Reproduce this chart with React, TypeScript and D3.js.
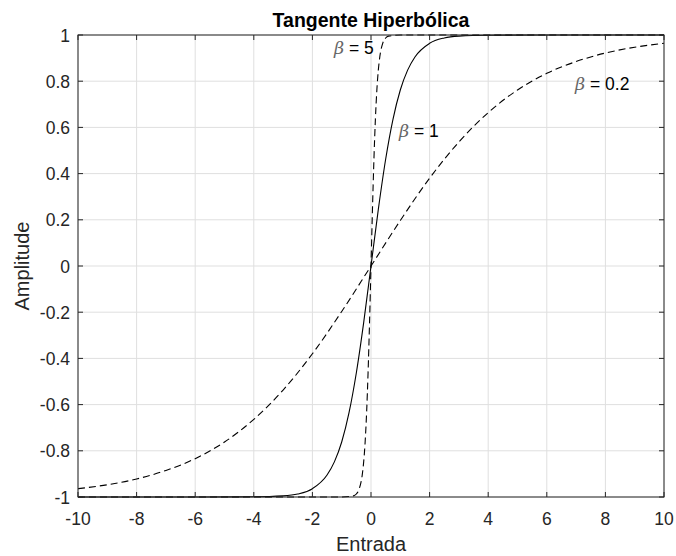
import React from "react";
import * as d3 from "d3";

const xTicks = [-10, -8, -6, -4, -2, 0, 2, 4, 6, 8, 10];
const yTicks = [-1, -0.8, -0.6, -0.4, -0.2, 0, 0.2, 0.4, 0.6, 0.8, 1];
const yTickLabels = ["-1", "-0.8", "-0.6", "-0.4", "-0.2", "0", "0.2", "0.4", "0.6", "0.8", "1"];

// beta = 0.2
const xB02 = [-10, -9, -8, -7, -6, -5, -4, -3, -2, -1, 0, 1, 2, 3, 4, 5, 6, 7, 8, 9, 10];
const yB02 = [-0.964, -0.947, -0.922, -0.885, -0.834, -0.762, -0.664, -0.537, -0.38, -0.197, 0, 0.197, 0.38, 0.537, 0.664, 0.762, 0.834, 0.885, 0.922, 0.947, 0.964];

// beta = 1
const xB1 = [-10, -6, -4, -3, -2.5, -2, -1.5, -1.25, -1, -0.75, -0.5, -0.25, 0, 0.25, 0.5, 0.75, 1, 1.25, 1.5, 2, 2.5, 3, 4, 6, 10];
const yB1 = [-1, -1, -0.999, -0.995, -0.987, -0.964, -0.905, -0.848, -0.762, -0.635, -0.462, -0.245, 0, 0.245, 0.462, 0.635, 0.762, 0.848, 0.905, 0.964, 0.987, 0.995, 0.999, 1, 1];

// beta = 5
const xB5 = [-10, -1, -0.6, -0.5, -0.4, -0.3, -0.25, -0.2, -0.15, -0.1, -0.05, 0, 0.05, 0.1, 0.15, 0.2, 0.25, 0.3, 0.4, 0.5, 0.6, 1, 10];
const yB5 = [-1, -1, -0.995, -0.987, -0.964, -0.905, -0.848, -0.762, -0.635, -0.462, -0.245, 0, 0.245, 0.462, 0.635, 0.762, 0.848, 0.905, 0.964, 0.987, 0.995, 1, 1];

const W = 676, H = 556;
const L = 78, R = 664, T = 35, B = 497;
const txt = "#262626";
const font = "Helvetica, Arial, 'Liberation Sans', sans-serif";

export default function App() {
  const x = d3.scaleLinear().domain([-10, 10]).range([L, R]);
  const y = d3.scaleLinear().domain([-1, 1]).range([B, T]);
  const line = d3.line<[number, number]>().x(d => x(d[0])).y(d => y(d[1])).curve(d3.curveMonotoneX);
  const mk = (xs: number[], ys: number[]) => xs.map((v, i) => [v, ys[i]] as [number, number]);
  const tl = 5;
  return (
    <svg width={W} height={H} style={{ position: "absolute", left: 0, top: 0, background: "#fff" }} fontFamily={font}>
      <rect x={0} y={0} width={W} height={H} fill="#fff" />
      {/* grid */}
      {xTicks.map(t => (
        <line key={"gx" + t} x1={x(t)} x2={x(t)} y1={T} y2={B} stroke="#dfdfdf" strokeWidth={1} />
      ))}
      {yTicks.map(t => (
        <line key={"gy" + t} x1={L} x2={R} y1={y(t)} y2={y(t)} stroke="#dfdfdf" strokeWidth={1} />
      ))}
      {/* curves */}
      <clipPath id="clip"><rect x={L} y={T - 1} width={R - L} height={B - T + 2} /></clipPath>
      <g clipPath="url(#clip)" fill="none">
        <path d={line(mk(xB02, yB02)) || ""} stroke="#000" strokeWidth={1.1} strokeDasharray="7,4" />
        <path d={line(mk(xB1, yB1)) || ""} stroke="#000" strokeWidth={1.1} />
        <path d={line(mk(xB5, yB5)) || ""} stroke="#000" strokeWidth={1.1} strokeDasharray="7,4" />
      </g>
      {/* axes box */}
      <rect x={L} y={T} width={R - L} height={B - T} fill="none" stroke={txt} strokeWidth={1} />
      {xTicks.map(t => (
        <g key={"tx" + t}>
          <line x1={x(t)} x2={x(t)} y1={B} y2={B - tl} stroke={txt} />
          <line x1={x(t)} x2={x(t)} y1={T} y2={T + tl} stroke={txt} />
          <text x={x(t)} y={525} textAnchor="middle" fontSize={17.5} fill={txt}>{t}</text>
        </g>
      ))}
      {yTicks.map((t, i) => (
        <g key={"ty" + t}>
          <line x1={L} x2={L + tl} y1={y(t)} y2={y(t)} stroke={txt} />
          <line x1={R} x2={R - tl} y1={y(t)} y2={y(t)} stroke={txt} />
          <text x={70} y={y(t) + 6.5} textAnchor="end" fontSize={17.5} fill={txt}>{yTickLabels[i]}</text>
        </g>
      ))}
      {/* labels */}
      <text x={371} y={27} textAnchor="middle" fontSize={19.5} fontWeight="bold" fill="#000">Tangente Hiperbólica</text>
      <text x={371} y={551} textAnchor="middle" fontSize={20} fill={txt}>Entrada</text>
      <text transform={`translate(29,${(T + B) / 2}) rotate(-90)`} textAnchor="middle" fontSize={20} fill={txt}>Amplitude</text>
      <text x={334} y={54} fontSize={17.5} fill="#000"><tspan fontStyle="italic" fill="#666" fontFamily="'DejaVu Serif', serif">β</tspan> = 5</text>
      <text x={399} y={137} fontSize={17.5} fill="#000"><tspan fontStyle="italic" fill="#666" fontFamily="'DejaVu Serif', serif">β</tspan> = 1</text>
      <text x={575} y={90} fontSize={17.5} fill="#000"><tspan fontStyle="italic" fill="#666" fontFamily="'DejaVu Serif', serif">β</tspan> = 0.2</text>
    </svg>
  );
}
